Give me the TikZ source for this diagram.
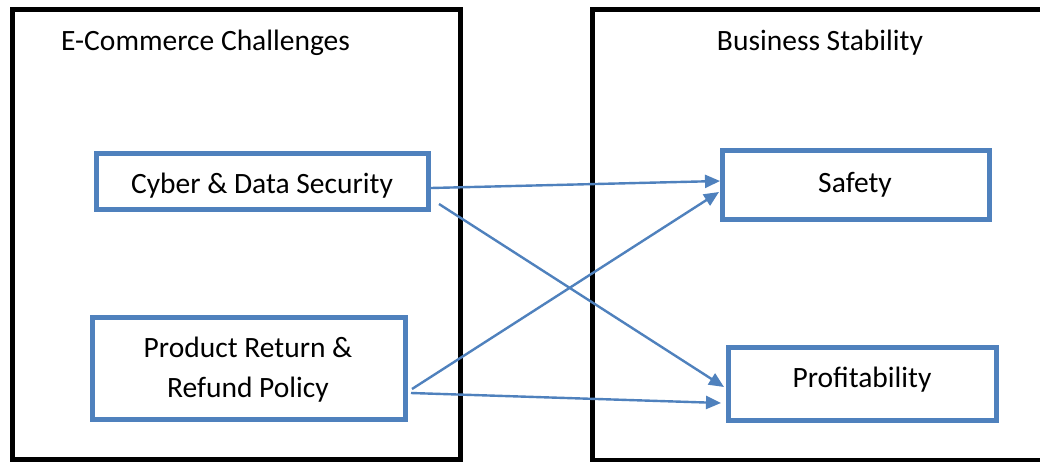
\documentclass[tikz,border=0pt]{standalone}
\usepackage{fontspec}
\setmainfont{Carlito}
\usetikzlibrary{arrows.meta}
\definecolor{bblue}{RGB}{79,129,189}
\tikzset{
  outer/.style={draw=black,line width=5pt},
  inbox/.style={draw=bblue,line width=5pt},
  conn/.style={draw=bblue,line width=2.4pt,-{Triangle[length=15pt,width=13pt]}},
  lbl/.style={font=\fontsize{29.5}{40}\selectfont,align=center}
}
\begin{document}
\begin{tikzpicture}[x=1pt,y=-1pt]
\useasboundingbox (0,0) rectangle (1040,462);
\clip (0,0) rectangle (1040,462);
\fill[white] (0,0) rectangle (1040,462);
% outer boxes
\draw[outer] (12,10) rectangle (460,459);
\draw[outer] (592,10) rectangle (1060,460);
\node[lbl,anchor=base west,inner sep=0pt] (t1) at (61,51) {E-Commerce Challenges};
\node[lbl,anchor=base,inner sep=0pt] (t2) at (820,51) {Business Stability};
% inner boxes
\draw[inbox] (96,154) rectangle (428,210);
\node[lbl] (cyber) at (262,186) {Cyber \& Data Security};
\coordinate (cyA) at (431,188);
\coordinate (cyB) at (439,204);
\draw[inbox] (722,151) rectangle (989,220);
\node[lbl] (safety) at (855,185) {Safety};
\coordinate (saA) at (720,181);
\coordinate (saB) at (719,192);
\draw[inbox] (92,317) rectangle (405,419);
\node[lbl] (prod) at (248,370) {Product Return \&\\Refund Policy};
\coordinate (prA) at (412,389);
\coordinate (prB) at (411,393);
\draw[inbox] (728,347) rectangle (996,420);
\node[lbl] (profit) at (862,380) {Profitability};
\coordinate (pfA) at (724,387);
\coordinate (pfB) at (721,403);
% connectors
\draw[conn] (cyA) -- (saA);
\draw[conn] (cyB) -- (pfA);
\draw[conn] (prA) -- (saB);
\draw[conn] (prB) -- (pfB);
\end{tikzpicture}
\end{document}
